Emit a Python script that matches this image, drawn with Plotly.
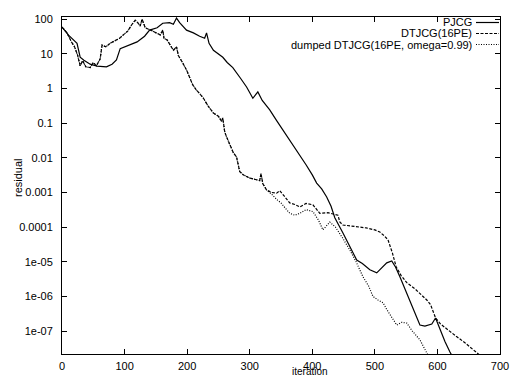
import plotly.graph_objects as go

# ---- data (iteration, residual) ----
pjcg_it = [0, 10, 24, 29, 35, 45, 56, 71, 80, 87, 93, 105, 120, 132, 140, 152, 161, 172, 178, 183,
           188, 199, 210, 220, 228, 231, 235, 242, 257, 264, 273, 285, 295, 305, 313, 320, 332, 342,
           353, 365, 375, 390, 400, 407, 415, 423, 430, 436, 449, 460, 471, 480, 492, 503, 512, 519,
           527, 533, 540, 556, 565, 572, 580, 591, 597, 605, 612, 620, 623]
pjcg_res = [59, 35, 20, 8.0, 6.5, 5.0, 4.4, 4.2, 5.0, 6.6, 14, 17, 22, 32, 48, 56, 76, 79, 71, 107,
            79, 48, 40, 32, 28, 40, 20, 12.6, 7.9, 5.6, 4.0, 2.0, 1.1, 0.52, 0.79, 0.45, 0.24, 0.126,
            0.063, 0.032, 0.0166, 0.0063, 0.0032, 0.00186, 0.00126, 0.00074, 0.0004, 0.000186,
            6.8e-05, 2.8e-05, 1.12e-05, 8.9e-06, 5.9e-06, 4.8e-06, 7.1e-06, 9.3e-06, 1.05e-05,
            7.1e-06, 3.7e-06, 7.9e-07, 3.2e-07, 1.5e-07, 1.4e-07, 1.6e-07, 2.4e-07, 1.0e-07,
            5.0e-08, 2.5e-08, 2.0e-08]

dtjcg_it = [0, 8, 15, 20, 25, 29, 33, 38, 45, 50, 55, 61, 64, 70, 77, 85, 92, 98, 105, 112, 117,
            121, 125, 128, 133, 145, 157, 161, 163, 168, 178, 183, 186, 193, 199, 209, 215, 225, 233,
            242, 250, 255, 257, 260, 263, 274, 279, 284, 290, 300, 310, 316, 318, 321, 327, 335, 343,
            348, 355, 364, 372, 380, 390, 401, 412, 425, 441, 444, 449, 465, 486, 500, 508, 515, 521,
            528, 534, 542, 551, 565, 583, 589, 597, 605, 612, 630, 644, 655, 665, 668]
dtjcg_res = [59, 40, 22, 16, 9.0, 4.5, 6.3, 4.2, 4.0, 5.6, 4.5, 7.1, 17.8, 15.8, 20, 24, 28, 35, 45,
             71, 93, 79, 63, 100, 56, 45, 35, 48, 28, 25, 12.6, 15.8, 8.9, 5.4, 3.4, 1.26, 0.89,
             0.56, 0.32, 0.195, 0.158, 0.112, 0.141, 0.056, 0.04, 0.0138, 0.0105, 0.004, 0.0032,
             0.0026, 0.0024, 0.0022, 0.0035, 0.00178, 0.00117, 0.001, 0.00095, 0.00112, 0.00079,
             0.0005, 0.00045, 0.00038, 0.00048, 0.00044, 0.00025, 0.00026, 0.00022, 0.00014,
             0.000115, 0.000105, 9.5e-05, 8.3e-05, 7.2e-05, 5.6e-05, 4.3e-05, 1.8e-05, 7.2e-06,
             4.0e-06, 2.5e-06, 1.6e-06, 7.9e-07, 5.8e-07, 2.4e-07, 1.6e-07, 1.26e-07, 7.1e-08,
             4.6e-08, 3.2e-08, 2.3e-08, 2.0e-08]

dumped_it = [0, 8, 15, 20, 25, 29, 33, 38, 45, 50, 55, 61, 64, 70, 77, 85, 92, 98, 105, 112, 117,
             121, 125, 128, 133, 145, 157, 161, 163, 168, 178, 183, 186, 193, 199, 209, 215, 225, 233,
             242, 250, 255, 257, 260, 263, 274, 279, 284, 290, 300, 310, 316, 318, 321, 327, 335, 343,
             350, 357, 364, 372, 380, 390, 401, 410, 417, 428, 437, 448, 460, 470, 481, 490, 497, 505,
             513, 519, 527, 535, 543, 551, 560, 572, 578, 583, 585]
dumped_res = [59, 40, 22, 16, 9.0, 4.5, 6.3, 4.2, 4.0, 5.6, 4.5, 7.1, 17.8, 15.8, 20, 24, 28, 35, 45,
              71, 93, 79, 63, 100, 56, 45, 35, 48, 28, 25, 12.6, 15.8, 8.9, 5.4, 3.4, 1.26, 0.89,
              0.56, 0.32, 0.195, 0.158, 0.112, 0.141, 0.056, 0.04, 0.0138, 0.0105, 0.004, 0.0032,
              0.0026, 0.0024, 0.0022, 0.0035, 0.00178, 0.00117, 0.00089, 0.00063, 0.0005, 0.00035,
              0.00025, 0.00022, 0.00025, 0.00032, 0.00028, 0.000158, 8.3e-05, 0.00014, 0.0001,
              5.0e-05, 2.2e-05, 1.0e-05, 3.7e-06, 2.0e-06, 1.0e-06, 7.9e-07, 6.6e-07, 4.2e-07,
              2.5e-07, 1.5e-07, 1.8e-07, 1.7e-07, 1.0e-07, 5.6e-08, 3.5e-08, 2.3e-08, 2.0e-08]

series_names = ["PJCG", "DTJCG(16PE)", "dumped DTJCG(16PE, omega=0.99)"]
x_ticks = [0, 100, 200, 300, 400, 500, 600, 700]
y_tickvals = [100, 10, 1, 0.1, 0.01, 0.001, 0.0001, 1e-05, 1e-06, 1e-07]
y_ticktext = ["100", "10", "1", "0.1", "0.01", "0.001", "0.0001", "1e-05", "1e-06", "1e-07"]

W, H = 517, 378
L, R, T, B = 62, 17, 17, 24
FONT = "Liberation Sans, Arial, Helvetica, sans-serif"
dashes = ["solid", "3px,1.5px", "1px,1.5px"]

fig = go.Figure()
for xs, ys, name, d in zip([pjcg_it, dtjcg_it, dumped_it],
                           [pjcg_res, dtjcg_res, dumped_res], series_names, dashes):
    fig.add_trace(go.Scatter(x=xs, y=ys, mode="lines", name=name, showlegend=False,
                             line=dict(color="black", width=1.2, dash=d)))

axis_common = dict(showgrid=False, zeroline=False, showline=True, linecolor="black", linewidth=1,
                   mirror="allticks", ticks="inside", ticklen=5, tickcolor="black", tickwidth=1,
                   automargin=False,
                   tickfont=dict(family=FONT, size=11, color="black"))
fig.update_xaxes(range=[0, 700], tickvals=x_ticks, ticklabelstandoff=2, **axis_common)
fig.update_yaxes(type="log", range=[-7.66, 2.06], tickvals=y_tickvals, ticktext=y_ticktext,
                 ticklabelstandoff=6, **axis_common)

pw = W - L - R
ph = H - T - B
def px(xp):
    return (xp - L) / pw
def py(yp):
    return 1 - (yp - T) / ph

# axis titles
fig.add_annotation(text="iteration", x=px(310), y=py(378), xref="paper", yref="paper",
                   showarrow=False, font=dict(family=FONT, size=10, color="black"),
                   xanchor="center", yanchor="bottom", borderpad=0)
fig.add_annotation(text="residual", x=px(18), y=py(178), xref="paper", yref="paper",
                   showarrow=False, textangle=-90, font=dict(family=FONT, size=11, color="black"),
                   xanchor="center", yanchor="middle", borderpad=0)

# gnuplot-style key (text right-aligned, sample to the right)
rows = [22.5, 33.5, 44.5]
for name, d, yr in zip(series_names, dashes, rows):
    fig.add_annotation(text=name, x=px(473), y=py(yr), xref="paper", yref="paper",
                       showarrow=False, xanchor="right", yanchor="middle", borderpad=0,
                       font=dict(family=FONT, size=11, color="black"))
    fig.add_shape(type="line", xref="paper", yref="paper", x0=px(476), x1=px(499),
                  y0=py(yr), y1=py(yr), line=dict(color="black", width=1.2, dash=d))

fig.update_layout(width=W, height=H, margin=dict(l=L, r=R, t=T, b=B, pad=0, autoexpand=False),
                  paper_bgcolor="white", plot_bgcolor="white", showlegend=False)
fig.write_html("out.html")
